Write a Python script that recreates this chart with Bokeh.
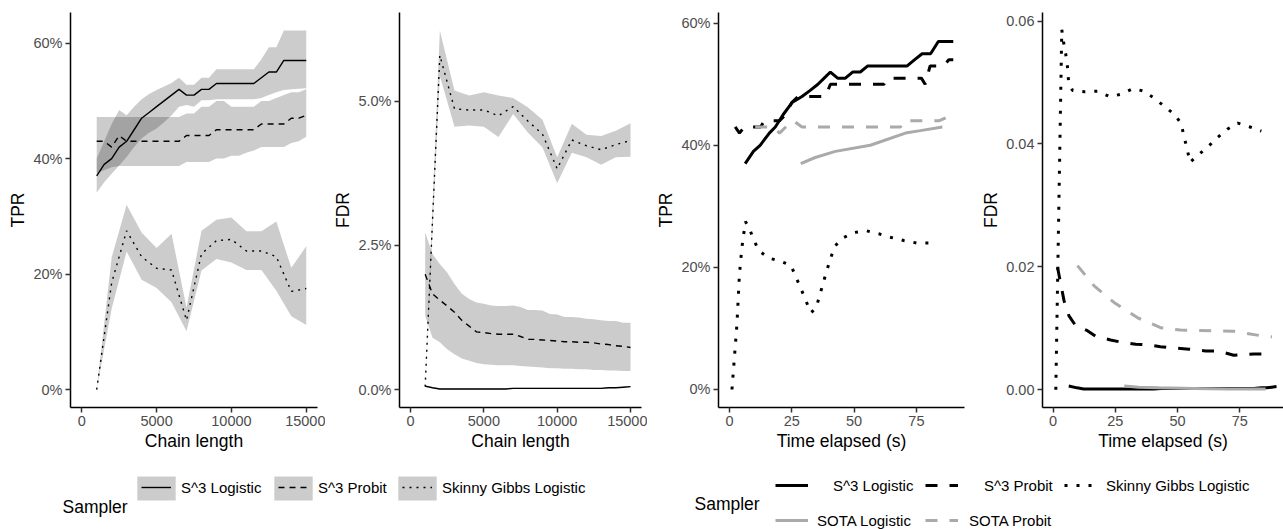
from bokeh.plotting import figure
from bokeh.models import (Range1d, FixedTicker, NumeralTickFormatter, Legend,
                          LegendItem, Label)
from bokeh.layouts import column, row
from bokeh.embed import file_html
from bokeh.resources import INLINE

FONT = "Liberation Sans"

# ---------------- data: chain-length panels ----------------
chain = [1000, 1500, 2000, 2500, 3000, 3500, 4000, 4500, 5000, 5500, 6000, 6500,
         7000, 7500, 8000, 8500, 9000, 9500, 10000, 10500, 11000, 11500, 12000,
         12500, 13000, 13500, 14000, 14500, 15000]
chain_sg = [1000, 2000, 3000, 4000, 5000, 6000, 7000, 8000, 9000, 10000, 11000,
            12000, 13000, 14000, 15000]

tpr_s3_logit = [0.37, 0.39, 0.40, 0.42, 0.43, 0.45, 0.47, 0.48, 0.49, 0.50, 0.51, 0.52,
                0.51, 0.51, 0.52, 0.52, 0.53, 0.53, 0.53, 0.53, 0.53, 0.53, 0.54,
                0.55, 0.55, 0.57, 0.57, 0.57, 0.57]
tpr_s3_logit_lo = [0.341, 0.359, 0.374, 0.388, 0.403, 0.42, 0.435, 0.445, 0.452, 0.463,
                   0.475, 0.49, 0.493, 0.49, 0.501, 0.501, 0.503, 0.503, 0.503, 0.503,
                   0.503, 0.503, 0.505, 0.51, 0.515, 0.519, 0.52, 0.521, 0.522]
tpr_s3_logit_hi = [0.40, 0.43, 0.46, 0.484, 0.475, 0.49, 0.503, 0.512, 0.519, 0.525,
                   0.531, 0.54, 0.528, 0.528, 0.54, 0.54, 0.555, 0.555, 0.555, 0.555,
                   0.555, 0.555, 0.572, 0.593, 0.593, 0.622, 0.622, 0.622, 0.622]

tpr_s3_probit = [0.43, 0.43, 0.42, 0.44, 0.43, 0.43, 0.43, 0.43, 0.43, 0.43, 0.43, 0.43,
                 0.44, 0.44, 0.44, 0.44, 0.45, 0.45, 0.45, 0.45, 0.45, 0.45, 0.46,
                 0.46, 0.46, 0.46, 0.47, 0.47, 0.475]
tpr_s3_probit_lo = [0.375, 0.38, 0.385, 0.387, 0.387, 0.387, 0.387, 0.387, 0.387, 0.387,
                    0.387, 0.387, 0.394, 0.394, 0.394, 0.394, 0.40, 0.40, 0.405, 0.405,
                    0.41, 0.414, 0.42, 0.42, 0.42, 0.42, 0.427, 0.43, 0.438]
tpr_s3_probit_hi = [0.472, 0.472, 0.472, 0.472, 0.472, 0.472, 0.472, 0.472, 0.472, 0.472,
                    0.472, 0.472, 0.478, 0.478, 0.49, 0.49, 0.50, 0.50, 0.49, 0.49,
                    0.49, 0.49, 0.50, 0.50, 0.505, 0.51, 0.515, 0.515, 0.52]

tpr_sg = [0.0, 0.185, 0.275, 0.23, 0.21, 0.207, 0.12, 0.235, 0.258, 0.26, 0.24, 0.24,
          0.23, 0.17, 0.175]
tpr_sg_lo = [0.0, 0.14, 0.239, 0.19, 0.176, 0.151, 0.101, 0.206, 0.226, 0.22, 0.207,
             0.207, 0.171, 0.127, 0.112]
tpr_sg_hi = [0.0, 0.229, 0.32, 0.272, 0.245, 0.27, 0.142, 0.275, 0.294, 0.298, 0.274,
             0.274, 0.291, 0.211, 0.248]

fdr_s3_logit = [0.0006, 0.0003, 0.0001, 0.0001, 0.0001, 0.0001, 0.0001, 0.0001, 0.0001,
                0.0001, 0.0001, 0.0001, 0.0002, 0.0002, 0.0002, 0.0002, 0.0002, 0.0002,
                0.0002, 0.0002, 0.0002, 0.0002, 0.0002, 0.0002, 0.0002, 0.0003, 0.0003,
                0.0004, 0.0005]
fdr_s3_logit_lo = [0.0004, 0.0002, 0.0, 0.0, 0.0, 0.0, 0.0, 0.0, 0.0, 0.0, 0.0, 0.0,
                   0.0001, 0.0001, 0.0001, 0.0001, 0.0001, 0.0001, 0.0001, 0.0001, 0.0001,
                   0.0001, 0.0001, 0.0001, 0.0001, 0.0002, 0.0002, 0.0003, 0.0004]
fdr_s3_logit_hi = [0.0008, 0.0004, 0.0002, 0.0002, 0.0002, 0.0002, 0.0002, 0.0002, 0.0002,
                   0.0002, 0.0002, 0.0002, 0.0003, 0.0003, 0.0003, 0.0003, 0.0003, 0.0003,
                   0.0003, 0.0003, 0.0003, 0.0003, 0.0003, 0.0003, 0.0003, 0.0004, 0.0004,
                   0.0005, 0.0006]

fdr_s3_probit = [0.020, 0.0166, 0.0155, 0.0145, 0.0134, 0.012, 0.011, 0.010, 0.0099,
                 0.0097, 0.0096, 0.0096, 0.0096, 0.0092, 0.0087, 0.0087, 0.0086, 0.0085,
                 0.0084, 0.0083, 0.0083, 0.0082, 0.0082, 0.0081, 0.0079, 0.0078, 0.0076,
                 0.0075, 0.0073]
fdr_s3_probit_lo = [0.0128, 0.009, 0.0082, 0.007, 0.0061, 0.0054, 0.005, 0.0046, 0.0044,
                    0.0043, 0.0042, 0.0042, 0.0042, 0.0041, 0.004, 0.0039, 0.0038, 0.0037,
                    0.0037, 0.0036, 0.0036, 0.0035, 0.0035, 0.0034, 0.0034, 0.0033, 0.0033,
                    0.0032, 0.0032]
fdr_s3_probit_hi = [0.0273, 0.0235, 0.0218, 0.0203, 0.0183, 0.0166, 0.0157, 0.0151,
                    0.0149, 0.0146, 0.0145, 0.0145, 0.0146, 0.0143, 0.0138, 0.0138, 0.0137,
                    0.0131, 0.013, 0.0126, 0.0126, 0.0125, 0.0123, 0.0122, 0.012, 0.0119,
                    0.0119, 0.0116, 0.0116]

fdr_sg = [0.0005, 0.058, 0.0487, 0.0485, 0.0485, 0.0475, 0.0491, 0.0466, 0.0443, 0.0383,
          0.0433, 0.0423, 0.0416, 0.0425, 0.0432]
fdr_sg_lo = [0.0005, 0.0544, 0.0456, 0.0458, 0.0456, 0.0438, 0.0478, 0.0446, 0.042,
             0.0358, 0.0411, 0.0403, 0.039, 0.0403, 0.0404]
fdr_sg_hi = [0.0005, 0.0623, 0.0519, 0.051, 0.0516, 0.051, 0.0506, 0.049, 0.0468, 0.0403,
             0.0461, 0.0442, 0.044, 0.0449, 0.0462]

# ---------------- data: time panels ----------------
time_s3_logit = [6.3, 9.6, 12.3, 16.0, 18.4, 21.5, 25.1, 29.1, 32.4, 35.5, 38.0, 40.5,
                 43.4, 46.5, 49.4, 52.5, 55.5, 58.5, 61.5, 64.5, 67.5, 71.3, 74.2, 77.3,
                 80.7, 83.8, 85.8, 87.8, 89.8]

time_s3_probit_tpr = [2.3, 4.0, 6.0, 12.5, 14.0, 20.0, 22.5, 25.0, 27.5, 38.5, 40.5, 62.0,
                      63.5, 77.0, 78.5, 80.5, 86.0, 88.0, 89.8]
tpr_s3_probit_t = [0.43, 0.42, 0.43, 0.43, 0.44, 0.44, 0.45, 0.47, 0.48, 0.48, 0.50, 0.50,
                   0.51, 0.51, 0.50, 0.53, 0.53, 0.54, 0.54]

time_s3_probit_fdr = [1.8, 3.1, 4.4, 6.4, 9.1, 13.8, 17.1, 23.1, 27.8, 33.2, 38.0, 43.2,
                      48.6, 54.6, 61.3, 66.6, 72.6, 80.7, 88.0]
fdr_s3_probit_t = [0.0199, 0.0172, 0.0145, 0.012, 0.0104, 0.0096, 0.0087, 0.0081, 0.0077,
                   0.0074, 0.0073, 0.007, 0.0068, 0.0066, 0.0063, 0.0063, 0.0056, 0.0058,
                   0.0058]

time_sg_tpr = [1.0, 3.0, 4.0, 5.0, 6.4, 7.9, 9.6, 11.9, 16.0, 20.6, 24.7, 26.7, 28.8, 30.8,
               32.7, 34.7, 36.2, 38.9, 42.1, 45.4, 49.8, 54.9, 59.9, 64.9, 69.9, 75.0, 80.1]
tpr_sg_t = [0.0, 0.107, 0.189, 0.233, 0.275, 0.265, 0.246, 0.227, 0.215, 0.21, 0.203, 0.184,
            0.164, 0.144, 0.126, 0.133, 0.154, 0.193, 0.234, 0.248, 0.257, 0.26, 0.255,
            0.249, 0.244, 0.24, 0.24]

time_sg_fdr = [1.1, 3.5, 4.2, 5.1, 5.8, 6.2, 7.8, 12.7, 17.8, 22.8, 27.4, 32.1, 36.5, 40.8,
               44.8, 48.8, 51.5, 52.6, 53.9, 55.0, 58.6, 62.4, 66.2, 70.0, 74.2, 78.9, 83.7]
fdr_sg_t = [0.0, 0.0586, 0.0566, 0.0546, 0.0525, 0.0503, 0.0487, 0.0485, 0.0486, 0.0477,
            0.0481, 0.049, 0.0486, 0.0474, 0.0461, 0.0448, 0.0433, 0.0412, 0.0392, 0.037,
            0.0383, 0.0396, 0.0411, 0.0424, 0.0434, 0.0428, 0.0421]

time_sota_logit = [28.6, 34.4, 42.5, 56.5, 70.6, 76.6, 85.4]
tpr_sota_logit = [0.37, 0.38, 0.39, 0.40, 0.42, 0.424, 0.43]
fdr_sota_logit = [0.0006, 0.0004, 0.0003, 0.0002, 0.0001, 0.0001, 0.0001]

time_sota_probit_tpr = [10.3, 17.7, 20.1, 23.1, 25.7, 29.1, 68.6, 69.9, 84.0, 89.4]
tpr_sota_probit = [0.43, 0.43, 0.42, 0.432, 0.44, 0.43, 0.43, 0.44, 0.44, 0.45]
time_sota_probit_fdr = [9.8, 16.5, 24.5, 34.0, 43.2, 51.2, 64.6, 72.6, 83.3, 88.0]
fdr_sota_probit = [0.0202, 0.0169, 0.0142, 0.0117, 0.0101, 0.0097, 0.0096, 0.0095,
                   0.0088, 0.0086]

sampler_labels = ["S^3 Logistic", "S^3 Probit", "Skinny Gibbs Logistic",
                  "SOTA Logistic", "SOTA Probit"]

GRAY = "#AAAAAA"
BAND_ALPHA = 0.2
THIN_W = 1.4
THIN_DASH = "6 5"
THIN_DOT = "2 5"
THICK_DASH = "12 12"
THICK_DOT = "3 9"


def make_fig(w, left, right, xr, yr, xticks, yticks, yfmt, xlabel, ylabel):
    p = figure(width=w, height=458, x_range=Range1d(*xr), y_range=Range1d(*yr),
               min_border_left=left, min_border_right=right, min_border_top=12,
               min_border_bottom=51, toolbar_location=None, output_backend="svg")
    p.grid.visible = False
    p.outline_line_color = None
    p.xaxis.ticker = FixedTicker(ticks=xticks)
    p.yaxis.ticker = FixedTicker(ticks=yticks)
    p.xaxis.formatter = NumeralTickFormatter(format="0")
    p.yaxis.formatter = NumeralTickFormatter(format=yfmt)
    p.xaxis.axis_label = xlabel
    p.yaxis.axis_label = ylabel
    for ax in p.axis:
        ax.axis_line_color = "black"
        ax.axis_line_width = 1.5
        ax.major_tick_line_color = "#333333"
        ax.major_tick_line_width = 1.5
        ax.major_tick_out = 5
        ax.major_tick_in = 0
        ax.minor_tick_line_color = None
        ax.major_label_text_font = FONT
        ax.major_label_text_font_size = "14.5px"
        ax.major_label_text_color = "#4D4D4D"
        ax.major_label_standoff = 3
        ax.axis_label_text_font = FONT
        ax.axis_label_text_font_size = "17.5px"
        ax.axis_label_text_font_style = "normal"
        ax.axis_label_text_color = "black"
        ax.axis_label_standoff = 2
    return p


# Panel 1: TPR vs chain length
p1 = make_fig(325, 70, 8, (-750, 15750), (-0.0311, 0.6531), [0, 5000, 10000, 15000],
              [0, 0.2, 0.4, 0.6], "0%", "Chain length", "TPR")
p1.varea(x=chain, y1=tpr_s3_logit_lo, y2=tpr_s3_logit_hi, fill_color="black", fill_alpha=BAND_ALPHA)
p1.varea(x=chain, y1=tpr_s3_probit_lo, y2=tpr_s3_probit_hi, fill_color="black", fill_alpha=BAND_ALPHA)
p1.varea(x=chain_sg, y1=tpr_sg_lo, y2=tpr_sg_hi, fill_color="black", fill_alpha=BAND_ALPHA)
p1.line(chain, tpr_s3_logit, line_color="black", line_width=THIN_W)
p1.line(chain, tpr_s3_probit, line_color="black", line_width=THIN_W, line_dash=THIN_DASH)
p1.line(chain_sg, tpr_sg, line_color="black", line_width=THIN_W, line_dash=THIN_DOT)

# Panel 2: FDR vs chain length
p2 = make_fig(322, 74, 6, (-750, 15750), (-0.00312, 0.06542), [0, 5000, 10000, 15000],
              [0, 0.025, 0.05], "0.0%", "Chain length", "FDR")
p2.varea(x=chain, y1=fdr_s3_logit_lo, y2=fdr_s3_logit_hi, fill_color="black", fill_alpha=BAND_ALPHA)
p2.varea(x=chain, y1=fdr_s3_probit_lo, y2=fdr_s3_probit_hi, fill_color="black", fill_alpha=BAND_ALPHA)
p2.varea(x=chain_sg, y1=fdr_sg_lo, y2=fdr_sg_hi, fill_color="black", fill_alpha=BAND_ALPHA)
p2.line(chain, fdr_s3_logit, line_color="black", line_width=THIN_W)
p2.line(chain, fdr_s3_probit, line_color="black", line_width=THIN_W, line_dash=THIN_DASH)
p2.line(chain_sg, fdr_sg, line_color="black", line_width=THIN_W, line_dash=THIN_DOT)

# Panel 3: TPR vs time
p3 = make_fig(323, 71, 6, (-4.4, 94.3), (-0.0295, 0.6175), [0, 25, 50, 75],
              [0, 0.2, 0.4, 0.6], "0%", "Time elapsed (s)", "TPR")
p3.line(time_s3_logit, tpr_s3_logit, line_color="black", line_width=3)
p3.line(time_s3_probit_tpr, tpr_s3_probit_t, line_color="black", line_width=3, line_dash=THICK_DASH)
p3.line(time_sg_tpr, tpr_sg_t, line_color="black", line_width=3, line_dash=THICK_DOT)
p3.line(time_sota_logit, tpr_sota_logit, line_color=GRAY, line_width=3)
p3.line(time_sota_probit_tpr, tpr_sota_probit, line_color=GRAY, line_width=3, line_dash=THICK_DASH)

# Panel 4: FDR vs time
p4 = make_fig(313, 72, 0, (-4.25, 92.6), (-0.0029, 0.0614), [0, 25, 50, 75],
              [0, 0.02, 0.04, 0.06], "0.00", "Time elapsed (s)", "FDR")
p4.line(time_s3_logit, fdr_s3_logit, line_color="black", line_width=3)
p4.line(time_s3_probit_fdr, fdr_s3_probit_t, line_color="black", line_width=3, line_dash=THICK_DASH)
p4.line(time_sg_fdr, fdr_sg_t, line_color="black", line_width=3, line_dash=THICK_DOT)
p4.line(time_sota_logit, fdr_sota_logit, line_color=GRAY, line_width=3)
p4.line(time_sota_probit_fdr, fdr_sota_probit, line_color=GRAY, line_width=3, line_dash=THICK_DASH)

# ---------------- legend strip ----------------
# The legend strip uses a unit range, so the series drawn in it (which carry the
# legend glyph styles) fall outside its visible frame; only the legend keys show.
LEG_H = 71
leg = figure(width=1283, height=LEG_H, x_range=Range1d(0, 1), y_range=Range1d(0, 1),
             min_border=0, toolbar_location=None, output_backend="svg",
             x_axis_location=None, y_axis_location=None)
leg.grid.visible = False
leg.outline_line_color = None


def add_item(x, y, label, renderers, gw, gh, standoff):
    lg = Legend(items=[LegendItem(label=label, renderers=renderers)], location=(x, y),
                orientation="horizontal", glyph_width=gw, glyph_height=gh,
                label_standoff=standoff, padding=0, margin=0, spacing=0,
                border_line_color=None, background_fill_alpha=0,
                label_text_font=FONT, label_text_font_size="15px",
                label_text_color="black", label_height=12, label_width=0)
    leg.add_layout(lg, "center")


band_r = leg.varea(x=chain, y1=tpr_s3_logit_lo, y2=tpr_s3_logit_hi, fill_color="black",
                   fill_alpha=BAND_ALPHA)
thin_solid = leg.line(chain, tpr_s3_logit, line_color="black", line_width=THIN_W)
thin_dash = leg.line(chain, tpr_s3_probit, line_color="black", line_width=THIN_W, line_dash=THIN_DASH)
thin_dot = leg.line(chain_sg, tpr_sg, line_color="black", line_width=THIN_W, line_dash=THIN_DOT)
thick_solid = leg.line(chain, tpr_s3_logit, line_color="black", line_width=3)
thick_dash = leg.line(chain, tpr_s3_probit, line_color="black", line_width=3, line_dash=THICK_DASH)
thick_dot = leg.line(chain_sg, tpr_sg, line_color="black", line_width=3, line_dash=THICK_DOT)
gray_solid = leg.line(chain, tpr_s3_logit, line_color=GRAY, line_width=3)
gray_dash = leg.line(chain, tpr_s3_probit, line_color=GRAY, line_width=3, line_dash=THICK_DASH)

# left legend: gray key boxes (10% inset drawn by bokeh) + thin line keys
for bx, lab, rend in [(137, sampler_labels[0], thin_solid),
                      (274, sampler_labels[1], thin_dash),
                      (398, sampler_labels[2], thin_dot)]:
    add_item(bx - 5, 26, " ", [band_r], 48, 30, 0)
    add_item(bx + 4, 30, lab, [rend], 30, 24, 10)

# right legend (labels right-aligned within each column in the reference)
add_item(775, 35, sampler_labels[0], [thick_solid], 33, 18, 25)
add_item(925, 35, sampler_labels[1], [thick_dash], 33, 18, 26)
add_item(1064, 35, sampler_labels[2], [thick_dot], 33, 18, 9)
add_item(775, 0, sampler_labels[3], [gray_solid], 33, 18, 9)
add_item(925, 0, sampler_labels[4], [gray_dash], 33, 18, 11)

for sx, sy in ((62, 23), (694, 26)):
    leg.add_layout(Label(x=sx, y=sy, x_units="screen", y_units="screen", text="Sampler",
                         text_font=FONT, text_font_size="17.5px", text_color="black",
                         text_baseline="middle", text_align="left"))

layout = column(row(p1, p2, p3, p4), leg)
open("out.html", "w").write(file_html(layout, INLINE))
